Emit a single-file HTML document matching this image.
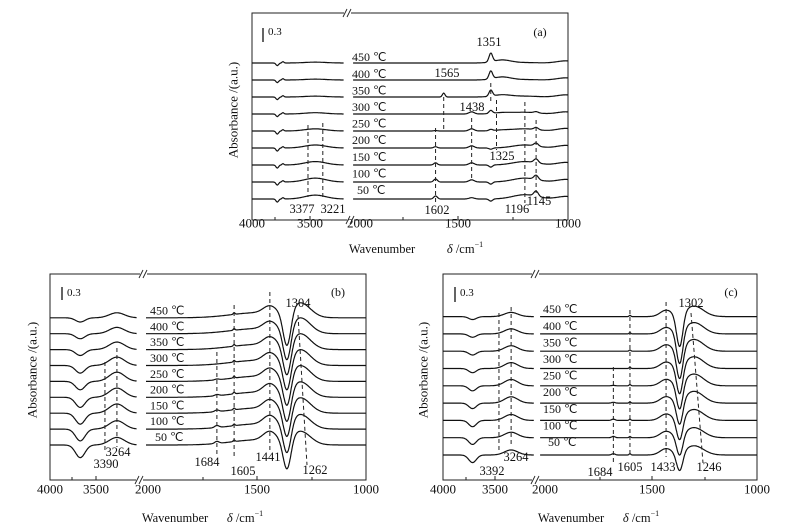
<!DOCTYPE html>
<html><head><meta charset="utf-8"><style>
html,body{margin:0;padding:0;background:#fff;}
svg{display:block;font-family:"Liberation Serif",serif;}
</style></head><body>
<svg id="fig" width="788" height="522" viewBox="0 0 788 522" xmlns="http://www.w3.org/2000/svg"></svg>
<script>
const temps = [50,100,150,200,250,300,350,400,450];
// peak lists: pos (cm-1), width, amps per temperature (absorbance)
const aLeftPeaks = [
 {pos:3700,w:14,amps:[-0.07,-0.07,-0.07,-0.07,-0.07,-0.06,-0.06,-0.06,-0.06]},
 {pos:3640,w:10,amps:[0.03,0.03,0.03,0.03,0.03,0.03,0.03,0.03,0.03]},
 {pos:3300,w:110,amps:[0.09,0.09,0.08,0.07,0.05,0.03,0.02,0.02,0.02]}
];
const aRightPeaks = [
 {pos:1351,w:8,amps:[-0.05,-0.05,-0.05,-0.03,0.03,0.07,0.14,0.18,0.2]},
 {pos:1300,w:40,amps:[0,0,0,0,0.02,0.03,0.05,0.07,0.07]},
 {pos:1565,w:6,amps:[0,0,0,0,0,0,0.09,0,0]},
 {pos:1602,w:8,amps:[0.07,0.07,0.05,0.03,0.01,0,0,0,0]},
 {pos:1438,w:12,amps:[0.03,0.05,0.05,0.05,0.05,0.05,0,0,0]},
 {pos:1145,w:10,amps:[0.12,0.1,0.09,0.07,0.05,0.03,0,0,0]},
 {pos:1196,w:55,amps:[0.1,0.09,0.08,0.07,0.05,0.04,0.02,0.01,0.01]},
 {pos:1010,w:40,amps:[0.06,0.06,0.06,0.06,0.06,0.05,0.05,0.05,0.05]}
];
const bLeftPeaks = [
 {pos:3650,w:50,amps:[-0.3,-0.28,-0.26,-0.24,-0.2,-0.18,-0.14,-0.12,-0.1]},
 {pos:3264,w:80,amps:[0.18,0.2,0.22,0.22,0.22,0.2,0.18,0.15,0.12]}
];
const bRightPeaks = [
 {pos:1441,w:30,amps:[0.22,0.22,0.22,0.22,0.21,0.2,0.2,0.19,0.18]},
 {pos:1362,w:18,amps:[-0.75,-0.75,-0.75,-0.77,-0.77,-0.78,-0.8,-0.82,-0.85]},
 {pos:1300,w:45,amps:[0.3,0.32,0.34,0.34,0.35,0.35,0.35,0.35,0.33]},
 {pos:1684,w:10,amps:[0.05,0.05,0.04,0.03,0.02,0,0,0,0]},
 {pos:1605,w:4,amps:[0.04,0.04,0.04,0.04,0.04,0.04,0.04,0.04,0.04]},
 {pos:1500,w:120,amps:[0.12,0.12,0.12,0.12,0.12,0.12,0.12,0.12,0.12]}
];
const cLeftPeaks = [
 {pos:3670,w:40,amps:[-0.18,-0.16,-0.15,-0.13,-0.12,-0.1,-0.09,-0.08,-0.07]},
 {pos:3264,w:70,amps:[0.12,0.13,0.14,0.15,0.15,0.14,0.13,0.12,0.1]}
];
const cRightPeaks = [
 {pos:1433,w:28,amps:[0.15,0.15,0.15,0.15,0.15,0.15,0.15,0.15,0.15]},
 {pos:1368,w:15,amps:[-0.45,-0.5,-0.55,-0.6,-0.65,-0.7,-0.75,-0.8,-0.8]},
 {pos:1300,w:45,amps:[0.22,0.24,0.26,0.28,0.28,0.28,0.28,0.27,0.25]},
 {pos:1684,w:8,amps:[0.03,0.03,0.03,0.02,0.01,0,0,0,0]},
 {pos:1605,w:4,amps:[0.03,0.03,0.03,0.03,0.03,0.03,0.03,0.03,0.03]}
];
const tickLabels = ["4000","3500","2000","1500","1000"];

const NS="http://www.w3.org/2000/svg";
const svg=document.getElementById('fig');
function mk(tag,attrs,parent){const e=document.createElementNS(NS,tag);for(const k in attrs)e.setAttribute(k,attrs[k]);(parent||svg).appendChild(e);return e;}
function txt(s,x,y,size,parent,anchor){const t=mk('text',{x:x,y:y,'font-size':size,'text-anchor':anchor||'middle','dominant-baseline':'central',fill:'#111'},parent);t.textContent=s;return t;}

const panels=[
 {id:'a',X0:252,X1:568,Y0:13,Y1:220,aL:248.8,sL:0.095,x2000:348,sR:0.22,lEnd:3000,rStart:1977,y50:199,step:17,yS:43,
  left:aLeftPeaks,right:aRightPeaks,ticksX:[252,310,360,458,568],minor:[275,403,513],brkTop:347,brkBot:350,
  tempX:352,tempY0:190,tempStep:16.6,
  dashes:[[3377,125,197],[3221,123,197],[1602,128,203],[1565,97,130],[1438,118,180],[1351,83,102],[1325,100,150],[1196,102,203],[1145,120,193]],
  labels:[["1351",489,42],["1565",447,73],["1438",472,107],["1325",502,156],["1602",437,210],["1196",517,209],["1145",539,201],["3377",302,209],["3221",333,209]],
  slant:null,bar:[263,28,42],barT:[268,32],tag:[540,32],yt:[233,110],tickY:223,wn:[382,249],dl:[465,249]},
 {id:'b',X0:50,X1:366,Y0:274,Y1:480,aL:47,sL:0.095,x2000:148,sR:0.218,lEnd:3053,rStart:2009,y50:445,step:15.9,yS:42,
  left:bLeftPeaks,right:bRightPeaks,ticksX:[50,96,148,257,366],minor:[72,203,312],brkTop:143,brkBot:139,
  tempX:150,tempY0:437,tempStep:15.8,
  dashes:[[3390,362,453],[3264,348,447],[1684,352,457],[1605,305,457],[1441,292,450]],
  labels:[["1304",298,303],["3264",118,452],["3390",106,464],["1684",207,462],["1605",243,471],["1441",268,457],["1262",315,470]],
  slant:[298,315,307,465],bar:[62,287,300],barT:[67,293],tag:[338,292],yt:[32,370],tickY:489,wn:[175,518],dl:[245,518]},
 {id:'c',X0:443,X1:757,Y0:274,Y1:480,aL:441.2,sL:0.095,x2000:547,sR:0.21,lEnd:3023,rStart:2033,y50:455,step:17.3,yS:42,
  left:cLeftPeaks,right:cRightPeaks,ticksX:[443,495,545,652,757],minor:[466,600,705],brkTop:535,brkBot:535,
  tempX:543,tempY0:442,tempStep:16.6,
  dashes:[[3392,313,453],[3264,307,447],[1684,367,465],[1605,310,457],[1433,302,457]],
  labels:[["1302",691,303],["3264",516,457],["3392",492,471],["1684",600,472],["1605",630,467],["1433",663,467],["1246",709,467]],
  slant:[691,313,703,463],bar:[455,287,302],barT:[460,293],tag:[731,292],yt:[423,370],tickY:489,wn:[571,518],dl:[641,518]}
];

function spec(peaks,i,w){let s=0;for(const p of peaks){const d=(w-p.pos)/p.w;s+=p.amps[i]*Math.exp(-0.5*d*d);}return s;}

panels.forEach(P=>{
 const g=mk('g',{});
 
 
 const xL=w=>P.aL+(4000-w)*P.sL;
 const xR=w=>P.x2000+(2000-w)*P.sR;
 const frame=mk('rect',{x:P.X0,y:P.Y0,width:P.X1-P.X0,height:P.Y1-P.Y0,fill:'none',stroke:'#222','stroke-width':1},g);
 
 
 [[P.brkTop,P.Y0],[P.brkBot,P.Y1]].forEach(([bx,by])=>{
  mk('rect',{x:bx-3,y:by-4,width:7,height:8,fill:'#fff'},g);
  const br=mk('path',{d:`M${bx-4},${by+4} L${bx},${by-4} M${bx},${by+4} L${bx+4},${by-4}`,stroke:'#222','stroke-width':0.9,fill:'none'},g);
  
  
 });
 P.ticksX.forEach((tx,k)=>{
  if(k!==2) mk('line',{x1:tx,y1:P.Y1,x2:tx,y2:P.Y1-4,stroke:'#222'},g);
  const t=txt(tickLabels[k],tx,P.tickY,13,g);
  
  
 });
 P.minor.forEach(tx=>mk('line',{x1:tx,y1:P.Y1,x2:tx,y2:P.Y1-3,stroke:'#222'},g));
 temps.forEach((T,i)=>{
  const base=P.y50-i*P.step;
  let d='';
  for(let w=4000-(P.X0-P.aL)/P.sL;w>=P.lEnd;w-=4){d+=(d?'L':'M')+xL(w).toFixed(1)+','+(base-spec(P.left,i,w)*P.yS).toFixed(1);}
  let d2='';
  for(let w=P.rStart;w>=1000;w-=2){d2+=(d2?'L':'M')+xR(w).toFixed(1)+','+(base-spec(P.right,i,w)*P.yS).toFixed(1);}
  const l1=mk('path',{d:d,fill:'none',stroke:'#111','stroke-width':1.2},g);
  
  
  const l2=mk('path',{d:d2,fill:'none',stroke:'#111','stroke-width':1.2},g);
  
  
  const tl=txt(T+' ℃',P.tempX+(i===0?5:0),P.tempY0-i*P.tempStep,12,g,'start');
  
  
 });
 P.dashes.forEach(([w,y1,y2])=>{
  const x=w>2500?xL(w):xR(w);
  const dl=mk('line',{x1:x,y1:y1,x2:x,y2:y2,stroke:'#222','stroke-dasharray':'4,3','stroke-width':1},g);
  
  
 });
 if(P.slant){const s=P.slant;const sl=mk('line',{x1:s[0],y1:s[1],x2:s[2],y2:s[3],stroke:'#222','stroke-dasharray':'4,3'},g);
  
  }
 P.labels.forEach(([s,x,y])=>{const t=txt(s,x,y,12.5,g);
  
  });
 const sb=mk('line',{x1:P.bar[0],y1:P.bar[1],x2:P.bar[0],y2:P.bar[2],stroke:'#111','stroke-width':1.3},g);
 
 
 txt('0.3',P.barT[0],P.barT[1],11,g,'start');
 const tg=txt('('+P.id+')',P.tag[0],P.tag[1],12,g);
 
 
 const yt=mk('text',{x:P.yt[0],y:P.yt[1],'font-size':13,'text-anchor':'middle','dominant-baseline':'central',fill:'#111',transform:`rotate(-90 ${P.yt[0]} ${P.yt[1]})`},g);
 yt.textContent='Absorbance /(a.u.)';
 
 
 const wn=txt('Wavenumber',P.wn[0],P.wn[1],12.5,g);
 
 
 const dt=mk('text',{x:P.dl[0],y:P.dl[1],'font-size':12.5,'text-anchor':'middle','dominant-baseline':'central',fill:'#111'},g);
 dt.innerHTML='<tspan font-style="italic">δ</tspan> /cm<tspan font-size="8" dy="-5">−1</tspan>';
 
 
});
</script>
</body></html>
